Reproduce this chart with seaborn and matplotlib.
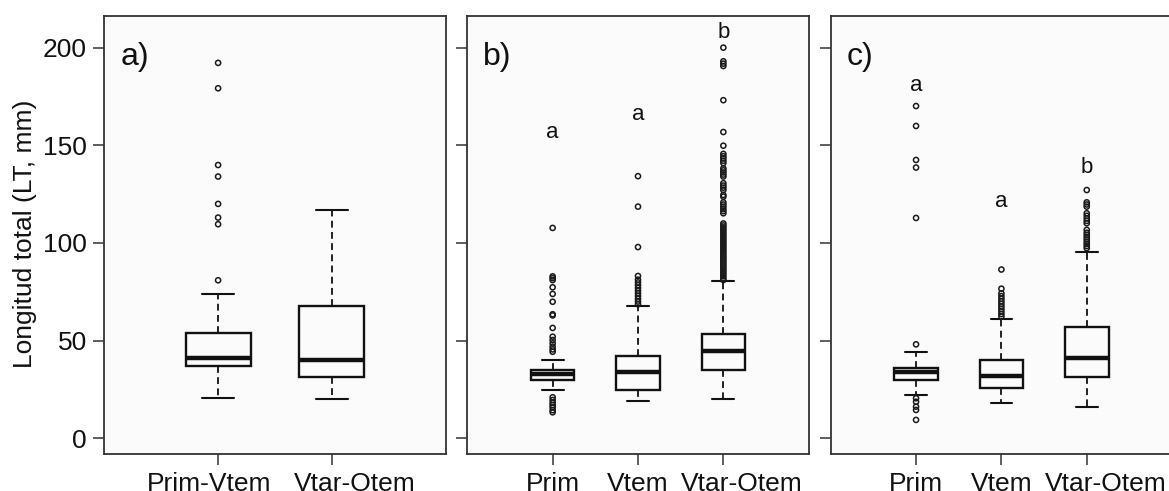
import numpy as np
import pandas as pd
import matplotlib
matplotlib.use("Agg")
import matplotlib.pyplot as plt
from matplotlib.transforms import ScaledTranslation
import seaborn as sns

# ---------------- data ----------------
cats_a = ["Prim-Vtem", "Vtar-Otem"]
whislo_a = [20.8, 20.3]
q1_a = [37.0, 31.2]
med_a = [41.0, 40.3]
q3_a = [53.8, 67.6]
whishi_a = [73.9, 116.7]
fliers_a = [
    [80.9, 109.6, 113.0, 120.0, 134.0, 139.9, 179.2, 192.2],
    [],
]

cats_bc = ["Prim", "Vtem", "Vtar-Otem"]

whislo_b = [24.7, 18.9, 20.3]
q1_b = [29.9, 24.7, 35.1]
med_b = [32.9, 33.8, 44.9]
q3_b = [35.1, 42.2, 53.2]
whishi_b = [40.3, 67.6, 80.4]
fliers_b = [
    [13.3, 14.4, 15.8, 17.0, 18.2, 19.6, 21.0, 44.3, 45.5, 46.9, 48.6, 50.3,
     52.0, 56.5, 62.9, 63.5, 69.9, 73.9, 77.3, 81.0, 82.0, 82.9, 107.7],
    [68.6, 70.0, 71.4, 72.8, 74.2, 75.6, 77.0, 78.4, 79.8, 81.2, 83.1, 97.9,
     118.6, 134.2],
    [81.0, 82.0, 83.0, 84.0, 85.0, 86.0, 87.0, 88.0, 89.0, 90.0, 91.0, 92.0,
     93.0, 94.0, 95.0, 96.0, 97.0, 98.0, 99.0, 100.0, 101.0, 102.0, 103.0,
     104.0, 105.0, 106.0, 107.0, 108.0, 109.0, 110.0, 115.2, 116.3, 117.4,
     118.6, 119.7, 120.8, 123.7, 124.6, 127.1, 128.3, 129.4, 130.6, 134.0,
     135.0, 136.1, 137.2, 138.2, 140.9, 142.1, 143.3, 144.4, 145.6, 149.8,
     156.8, 173.1, 190.6, 191.8, 193.0, 200.0],
]

whislo_c = [22.2, 18.2, 15.9]
q1_c = [29.9, 25.9, 31.2]
med_c = [33.8, 31.9, 41.0]
q3_c = [35.8, 40.1, 57.0]
whishi_c = [44.3, 61.1, 95.2]
fliers_c = [
    [9.4, 14.5, 16.2, 18.7, 20.5, 48.1, 112.8, 138.6, 142.5, 159.9, 170.1],
    [62.3, 63.6, 64.9, 66.2, 67.5, 68.8, 70.1, 71.4, 72.8, 74.2, 76.6, 86.4],
    [97.3, 98.4, 99.5, 100.6, 101.8, 102.9, 104.0, 105.2, 106.7, 110.1, 111.3,
     112.6, 113.9, 115.2, 118.6, 119.7, 120.8, 127.1],
]

# significance letters
letters_b = ["a", "a", "b"]
letter_y_b = [153.6, 163.0, 204.8]
letters_c = ["a", "a", "b"]
letter_y_c = [178.0, 118.6, 135.7]

panel_tags = ["a)", "b)", "c)"]
yticks = [0, 50, 100, 150, 200]
ylabel = "Longitud total (LT, mm)"

# ---------------- style ----------------
sns.set_theme(style="ticks")
plt.rcParams["font.family"] = ["Liberation Sans", "DejaVu Sans"]
plt.rcParams["axes.edgecolor"] = "#333333"
plt.rcParams["axes.linewidth"] = 1.3

LINE = "#111111"
BG = "#fbfbfb"
FS = 19


def box_frame(cats, lo, q1, med, q3, hi):
    rows = []
    for c, a, b, m, d, e in zip(cats, lo, q1, med, q3, hi):
        # seven values whose percentiles are exactly the five-number summary
        for v in (a, b, b, m, d, d, e):
            rows.append((c, v))
    return pd.DataFrame(rows, columns=["grupo", "LT"])


def flier_frame(cats, fliers):
    rows = []
    for c, fl in zip(cats, fliers):
        for v in fl:
            rows.append((c, v))
    return pd.DataFrame(rows, columns=["grupo", "LT"])


def draw_panel(ax, cats, lo, q1, med, q3, hi, fliers, width):
    df = box_frame(cats, lo, q1, med, q3, hi)
    sns.boxplot(
        data=df, x="grupo", y="LT", order=cats, ax=ax,
        whis=(0, 100), showfliers=False, width=width,
        color="white", linecolor=LINE, linewidth=1.6, fill=True,
        medianprops={"linewidth": 3.2, "color": LINE},
        whiskerprops={"linewidth": 1.3, "linestyle": (0, (3.8, 2.4)), "color": LINE},
        capprops={"linewidth": 1.5, "color": LINE},
        boxprops={"linewidth": 1.7, "edgecolor": LINE, "facecolor": BG},
    )
    fdf = flier_frame(cats, fliers)
    if len(fdf):
        sns.stripplot(
            data=fdf, x="grupo", y="LT", order=cats, ax=ax, jitter=False,
            size=3.7, facecolors="none", edgecolor="#1a1a1a", linewidth=1.1,
            color=LINE, zorder=3,
        )


fig = plt.figure(figsize=(11.69, 4.91), dpi=100)
fig.patch.set_facecolor("white")

ax_w = 341.4 / 1169
ax_h = 438.3 / 491
ax_b = 1 - 454.3 / 491
lefts = [104.3 / 1169, 467.3 / 1169, 830.7 / 1169]
axes = [fig.add_axes([l, ax_b, ax_w, ax_h]) for l in lefts]

draw_panel(axes[0], cats_a, whislo_a, q1_a, med_a, q3_a, whishi_a, fliers_a, 0.57)
draw_panel(axes[1], cats_bc, whislo_b, q1_b, med_b, q3_b, whishi_b, fliers_b, 0.51)
draw_panel(axes[2], cats_bc, whislo_c, q1_c, med_c, q3_c, whishi_c, fliers_c, 0.51)

# horizontal nudges (pixels) of the category labels, as set in the reference
label_shift_px = [
    {"Prim-Vtem": -9, "Vtar-Otem": 23},
    {"Vtar-Otem": 18},
    {"Vtar-Otem": 19},
]

for i, ax in enumerate(axes):
    ax.set_facecolor(BG)
    n = len(cats_a) if i == 0 else len(cats_bc)
    ax.set_xlim(-1, n)
    ax.set_ylim(-8.2, 216.2)
    ax.set_yticks(yticks)
    ax.set_xlabel("")
    ax.tick_params(axis="both", direction="out", length=8, width=1.1,
                   color="#333333", labelsize=FS, labelcolor="#111111")
    ax.tick_params(axis="x", pad=5)
    ax.tick_params(axis="y", pad=4.5)
    for s in ax.spines.values():
        s.set_visible(True)
        s.set_color("#333333")
        s.set_linewidth(1.3)
    ax.text(0.047, 191.0, panel_tags[i], transform=ax.get_yaxis_transform(),
            fontsize=23, ha="left", va="baseline", color="#111111")
    if i == 0:
        ax.set_ylabel(ylabel, fontsize=FS, color="#111111")
        ax.yaxis.set_label_coords(-0.198, 0.503)
    else:
        ax.set_ylabel("")
        ax.set_yticklabels([])
    for lbl in ax.get_xticklabels():
        dx = label_shift_px[i].get(lbl.get_text(), 0)
        if dx:
            lbl.set_transform(lbl.get_transform() +
                              ScaledTranslation(dx / 100, 0, fig.dpi_scale_trans))

for ax, letters, ys in ((axes[1], letters_b, letter_y_b), (axes[2], letters_c, letter_y_c)):
    for k, (t, yv) in enumerate(zip(letters, ys)):
        ax.text(k, yv, t, fontsize=16, ha="center", va="baseline", color="#111111")

fig.savefig("out.png", dpi=100)
